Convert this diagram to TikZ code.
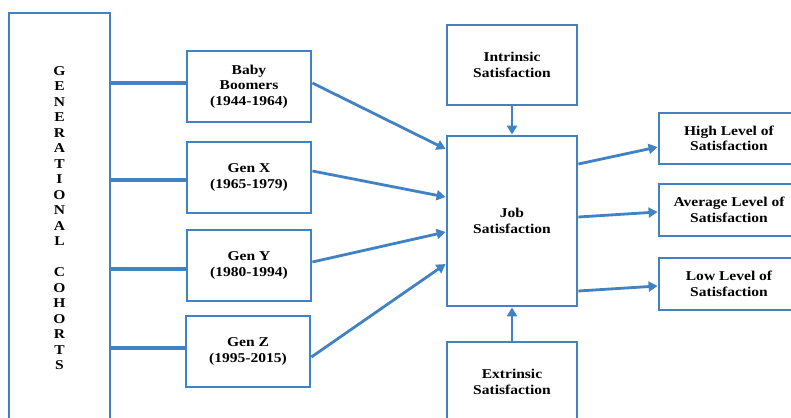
\documentclass[tikz,border=0pt]{standalone}
\usepackage{fontspec}
\setmainfont{Liberation Serif}[FakeStretch=1.15]
\usetikzlibrary{arrows.meta}
\definecolor{cblue}{RGB}{65,130,196}
\begin{document}
\begin{tikzpicture}[x=1pt,y=-1pt,
  box/.style={draw=cblue, line width=2.8pt, rectangle, inner sep=0pt, align=center,
    font=\bfseries\fontsize{13.5}{15.5}\selectfont},
  link/.style={draw=cblue, line width=3.2pt},
  arr/.style={draw=cblue, line width=2.8pt, -{Triangle[length=9pt,width=10pt]}}]
\useasboundingbox[fill=white] (0,0) rectangle (791,417);
% left big box
\node[box, minimum width=101pt, minimum height=410pt] (gc) at (59.5,218)
  {G\\E\\N\\E\\R\\A\\T\\I\\O\\N\\A\\L\\[15.5pt]C\\O\\H\\O\\R\\T\\S};
% cohorts
\node[box, minimum width=124pt, minimum height=71pt] (bb) at (249,86.5) {Baby\\Boomers\\(1944-1964)};
\node[box, minimum width=124pt, minimum height=71pt] (gx) at (249,177.5) {Gen X\\(1965-1979)};
\node[box, minimum width=124pt, minimum height=71pt] (gy) at (249,265.5) {Gen Y\\(1980-1994)};
\node[box, minimum width=124pt, minimum height=71pt] (gz) at (248,351.5) {Gen Z\\(1995-2015)};
% middle
\node[box, minimum width=130pt, minimum height=80pt] (intr) at (512,65) {Intrinsic\\Satisfaction};
\node[box, minimum width=130pt, minimum height=170pt] (job) at (512,221) {Job\\Satisfaction};
\node[box, minimum width=130pt, minimum height=80pt] (extr) at (512,382) {Extrinsic\\Satisfaction};
% outcomes
\node[box, minimum width=140pt, minimum height=51pt] (high) at (729,138.5) {High Level of\\Satisfaction};
\node[box, minimum width=140pt, minimum height=52pt] (avg) at (729,210) {Average Level of\\Satisfaction};
\node[box, minimum width=140pt, minimum height=52pt] (low) at (729,284) {Low Level of\\Satisfaction};
% left links
\draw[link] ([yshift=3.5pt]bb.west) -- ([yshift=3.5pt]bb.west -| gc.east);
\draw[link] ([yshift=-2.5pt]gx.west) -- ([yshift=-2.5pt]gx.west -| gc.east);
\draw[link] ([yshift=-3.5pt]gy.west) -- ([yshift=-3.5pt]gy.west -| gc.east);
\draw[link] ([yshift=3.5pt]gz.west) -- ([yshift=3.5pt]gz.west -| gc.east);
% cohorts to job
\draw[arr] ([yshift=3.5pt]bb.east) -- ([yshift=72pt]job.west);
\draw[arr] ([yshift=6.5pt]gx.east) -- ([yshift=24pt]job.west);
\draw[arr] ([yshift=3.5pt]gy.east) -- ([yshift=-11pt]job.west);
\draw[arr] ([yshift=-5.5pt]gz.east) -- ([yshift=-43pt]job.west);
% intrinsic/extrinsic
\draw[arr] (intr.south) -- (job.north);
\draw[arr] (extr.north) -- (job.south);
% job to outcomes
\draw[arr] ([yshift=57pt]job.east) -- ([yshift=-8.5pt]high.west);
\draw[arr] ([yshift=4pt]job.east) -- ([yshift=-2pt]avg.west);
\draw[arr] ([yshift=-70pt]job.east) -- ([yshift=-2pt]low.west);
\end{tikzpicture}
\end{document}
